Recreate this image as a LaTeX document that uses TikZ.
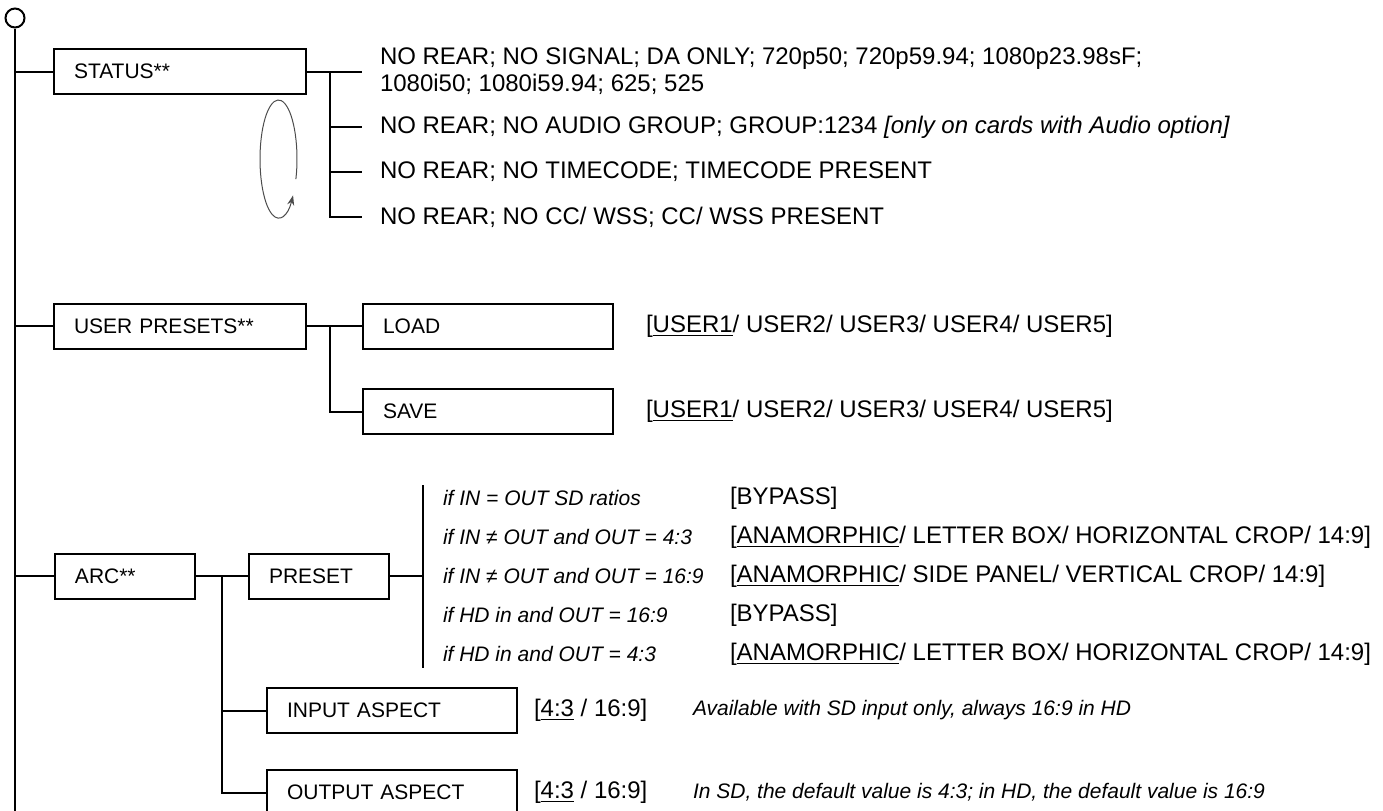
\documentclass[tikz,border=0pt]{standalone}
\usepackage{fontspec}
\setmainfont{Liberation Sans}
\usetikzlibrary{positioning,arrows.meta}

\begin{document}
\begin{tikzpicture}[x=0.5pt,y=-0.5pt,line width=1pt,
    font=\fontsize{10.5}{12}\selectfont,
    menubox/.style={draw,anchor=west,minimum height=22.5pt,inner xsep=10pt,inner ysep=0pt,text width=#1,align=left},
    valtext/.style={anchor=west,inner sep=0pt,align=left,font=\fontsize{12}{13.5}\selectfont},
    cond/.style={anchor=west,inner sep=0pt,font=\fontsize{10.5}{12}\selectfont\itshape},
    tolabel/.style={shorten >=8.5pt}]
  \useasboundingbox (0,0) rectangle (1383,810);
  \node (top) [circle,draw,minimum size=9.5pt,inner sep=0pt] at (15,18) {};
  \coordinate (bot) at (15,812);
  \draw (top.south) -- (bot);

  \node (status) [menubox=106pt] at (53,71.5) {STATUS**};
  \node (st1) [valtext] at (379,71.5) {NO REAR; NO SIGNAL; DA ONLY; 720p50; 720p59.94; 1080p23.98sF;\\1080i50; 1080i59.94; 625; 525};
  \node (st2) [valtext] at (379,127) {NO REAR; NO AUDIO GROUP; GROUP:1234 \textit{[only on cards with Audio option]}};
  \node (st3) [valtext] at (379,172) {NO REAR; NO TIMECODE; TIMECODE PRESENT};
  \node (st4) [valtext] at (379,217) {NO REAR; NO CC/ WSS; CC/ WSS PRESENT};
  \coordinate (sj) at (330,71.5);
  \draw (status.west -| top.south) -- (status.west);
  \draw[tolabel] (status.east) -- (st1.west);
  \draw[tolabel] (sj) |- (st4.west);
  \foreach \n in {st2,st3}
    \draw[tolabel] (sj |- \n.west) -- (\n.west);
  \draw[line width=0.5pt,black!70,-{Stealth[length=5pt,width=3.5pt]}] (278.5,159) ++(20:18.5 and 59) arc[start angle=20,end angle=-322,x radius=18.5,y radius=59];

  \node (presets) [menubox=106pt] at (53,326) {USER PRESETS**};
  \node (load) [menubox=105pt] at (362,326) {LOAD};
  \node (save) [menubox=105pt] at (362,411.5) {SAVE};
  \node (loadval) [valtext,right=15.5pt of load] {[\underline{USER1}/ USER2/ USER3/ USER4/ USER5]};
  \node (saveval) [valtext,right=15.5pt of save] {[\underline{USER1}/ USER2/ USER3/ USER4/ USER5]};
  \coordinate (pj) at (330,326);
  \draw (presets.west -| top.south) -- (presets.west);
  \draw (presets.east) -- (load.west);
  \draw (pj) |- (save.west);

  \node (arc) [menubox=50pt] at (54,576) {ARC**};
  \node (preset) [menubox=50pt] at (248,576) {PRESET};
  \coordinate (aj) at (222,576);
  \coordinate (cj) at (423,576);
  \coordinate (ctop) at (423,485);
  \coordinate (cbot) at (423,668);
  \draw (arc.west -| top.south) -- (arc.west);
  \draw (arc.east) -- (preset.west);
  \draw (preset.east) -- (cj);
  \draw (ctop) -- (cbot);
  \node (c1) [cond] at (442,498) {if IN = OUT SD ratios};
  \node (c2) [cond] at (442,537) {if IN ≠ OUT and OUT = 4:3};
  \node (c3) [cond] at (442,576) {if IN ≠ OUT and OUT = 16:9};
  \node (c4) [cond] at (442,615) {if HD in and OUT = 16:9};
  \node (c5) [cond] at (442,654) {if HD in and OUT = 4:3};
  \node (v1) [valtext] at (729,498) {[BYPASS]};
  \node (v2) [valtext] at (729,537) {[\underline{ANAMORPHIC}/ LETTER BOX/ HORIZONTAL CROP/ 14:9]};
  \node (v3) [valtext] at (729,576) {[\underline{ANAMORPHIC}/ SIDE PANEL/ VERTICAL CROP/ 14:9]};
  \node (v4) [valtext] at (729,615) {[BYPASS]};
  \node (v5) [valtext] at (729,654) {[\underline{ANAMORPHIC}/ LETTER BOX/ HORIZONTAL CROP/ 14:9]};

  \node (inaspect) [menubox=105pt] at (266,710.5) {INPUT ASPECT};
  \node (outaspect) [menubox=105pt] at (266,792.5) {OUTPUT ASPECT};
  \node (inval) [valtext,right=7.5pt of inaspect] {[\underline{4:3} / 16:9]};
  \node (outval) [valtext,right=7.5pt of outaspect] {[\underline{4:3} / 16:9]};
  \node (innote) [cond] at (692,710.5) {Available with SD input only, always 16:9 in HD};
  \node (outnote) [cond] at (692,792.5) {In SD, the default value is 4:3; in HD, the default value is 16:9};
  \draw (aj) |- (outaspect.west);
  \draw (aj |- inaspect.west) -- (inaspect.west);
\end{tikzpicture}
\end{document}
